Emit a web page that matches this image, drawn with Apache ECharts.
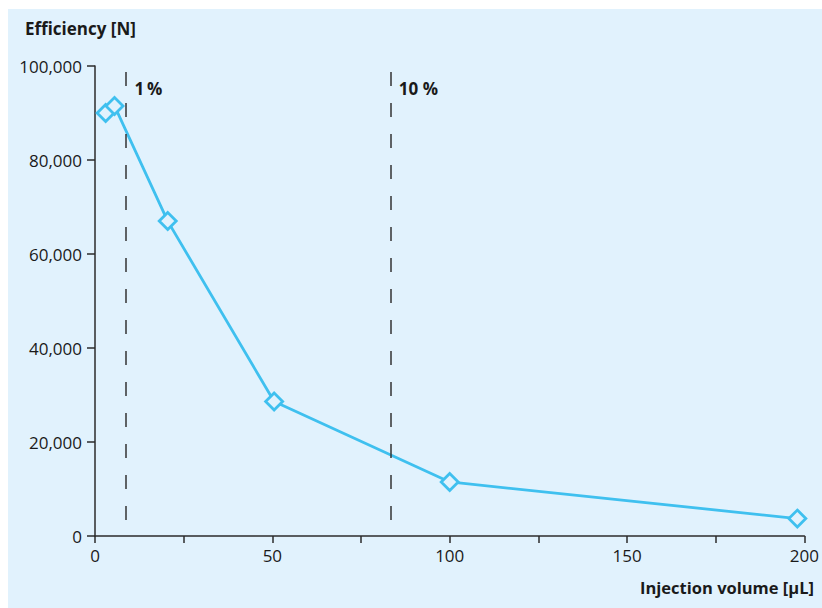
<!DOCTYPE html>
<html>
<head>
<meta charset="utf-8">
<script src="https://cdn.jsdelivr.net/npm/echarts@6/dist/echarts.min.js"></script>
<style>
html,body{margin:0;padding:0;background:#ffffff;overflow:hidden;}
#bg{position:absolute;left:8px;top:9px;width:814px;height:599px;background:#e1f2fd;}
#chart{position:absolute;left:0;top:0;width:822px;height:608px;}
</style>
</head>
<body>
<div id="bg"></div>
<div id="chart"></div>
<script>
// Data
const injectionVolume = [3, 5.5, 20.5, 50.5, 100, 198];
const efficiency = [90000, 91500, 67000, 28600, 11500, 3700];
const refLineX = [8.6, 83.4];
const refLineLabels = ['1\u2009%', '10 %'];
const yAxisTitle = 'Efficiency [N]';
const xAxisTitle = 'Injection volume [\u00b5L]';

const FONT = '"Open Sans", "Noto Sans", sans-serif';
const axisColor = '#2b2b2b';
const lineColor = '#3fc0ef';

const chart = echarts.init(document.getElementById('chart'), null, {renderer: 'svg', width: 822, height: 608});

chart.setOption({
  backgroundColor: 'transparent',
  animation: false,
  textStyle: {fontFamily: FONT},
  grid: {left: 95, right: 11, top: 66, bottom: 72, containLabel: false},
  title: [
    {text: yAxisTitle, left: 20, top: 15,
     textStyle: {fontFamily: FONT, fontSize: 17, fontWeight: 'bold', color: '#1a1a1a'}},
    {text: xAxisTitle, right: 3, top: 574,
     textStyle: {fontFamily: FONT, fontSize: 16.5, fontWeight: 'bold', color: '#1a1a1a'}}
  ],
  xAxis: {
    type: 'value', min: 0, max: 200, interval: 25,
    axisLine: {lineStyle: {color: axisColor, width: 1.5}},
    axisTick: {inside: false, length: 7, lineStyle: {color: axisColor, width: 1.5}},
    axisLabel: {
      margin: 11, fontSize: 17, color: '#1a1a1a', fontFamily: FONT,
      formatter: v => (v % 50 === 0 ? String(v) : '')
    },
    splitLine: {show: false}
  },
  yAxis: {
    type: 'value', min: 0, max: 100000, interval: 20000,
    axisLine: {show: true, lineStyle: {color: axisColor, width: 1.5}},
    axisTick: {show: true, inside: false, length: 8, lineStyle: {color: axisColor, width: 1.5}},
    axisLabel: {
      margin: 13, fontSize: 17, color: '#1a1a1a', fontFamily: FONT,
      formatter: v => v.toLocaleString('en-US')
    },
    splitLine: {show: false}
  },
  series: [{
    type: 'line',
    data: injectionVolume.map((x, i) => [x, efficiency[i]]),
    symbol: 'diamond',
    symbolSize: [17, 17],
    showAllSymbol: true,
    lineStyle: {color: lineColor, width: 2.8},
    itemStyle: {color: '#e1f2fd', borderColor: lineColor, borderWidth: 2.8},
    z: 3,
    markLine: {
      silent: true,
      symbol: 'none',
      lineStyle: {color: '#333333', width: 1.5, type: [14, 17], dashOffset: 15},
      label: {
        show: true, position: 'end', fontFamily: FONT, fontSize: 17,
        fontWeight: 'bold', color: '#1a1a1a', align: 'left', verticalAlign: 'middle'
      },
      data: refLineX.map((x, i) => ({
        xAxis: x,
        label: {formatter: refLineLabels[i], offset: [i === 0 ? 9 : 8, 27]}
      }))
    }
  }]
});
</script>
</body>
</html>
